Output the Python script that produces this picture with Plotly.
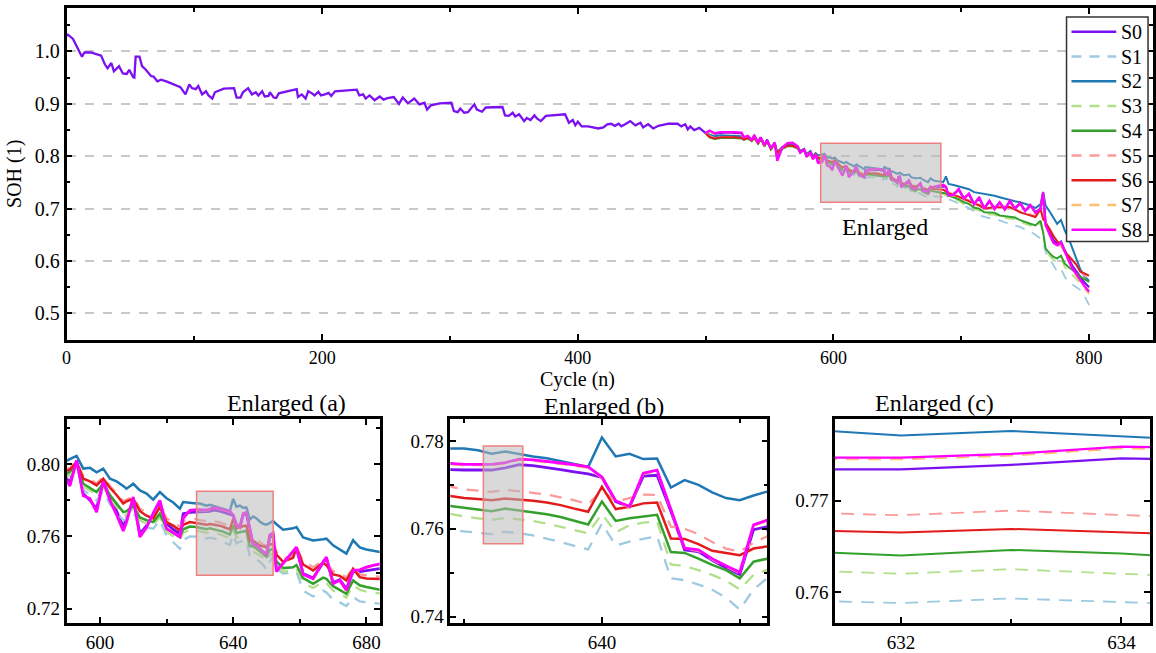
import plotly.graph_objects as go

# ---------------- data ----------------
series_names = ["S0", "S1", "S2", "S3", "S4", "S5", "S6", "S7", "S8"]
series_colors = ["#7B10F0", "#9ecae1", "#1f78b4", "#b2df8a", "#33a02c",
                 "#fb9a99", "#e31a1c", "#fdbf6f", "#ff00ff"]
series_dashed = [False, True, False, True, False, True, False, True, False]

# S0 alone, cycles 0-499
early_cycles = [0, 1, 5, 8, 12, 14, 19, 27, 30, 32,
                35, 37, 41, 44, 47, 49, 52, 53, 54, 57,
                59, 62, 66, 68, 71, 74, 79, 89, 92, 93,
                96, 98, 101, 103, 106, 109, 111, 114, 116, 123,
                131, 133, 136, 138, 142, 145, 148, 150, 153, 155,
                158, 159, 162, 164, 166, 175, 180, 181, 184, 187,
                189, 192, 194, 197, 199, 202, 205, 207, 210, 227,
                229, 232, 234, 237, 241, 245, 248, 251, 256, 260,
                263, 267, 272, 276, 280, 282, 285, 292, 301, 303,
                306, 308, 311, 314, 319, 321, 325, 328, 341, 343,
                346, 349, 351, 354, 358, 360, 363, 366, 368, 371,
                375, 390, 393, 396, 398, 400, 403, 408, 412, 416,
                420, 423, 426, 429, 432, 434, 437, 441, 445, 449,
                451, 455, 459, 463, 471, 478, 481, 484, 486, 488,
                491, 495, 499]
early_s0 = [1.030, 1.032, 1.024, 1.010, 0.990, 0.998, 0.998, 0.992, 0.975, 0.968,
            0.978, 0.962, 0.972, 0.958, 0.957, 0.965, 0.951, 0.950, 0.990, 0.990,
            0.972, 0.965, 0.953, 0.952, 0.943, 0.946, 0.942, 0.932, 0.920, 0.918,
            0.937, 0.930, 0.928, 0.934, 0.918, 0.924, 0.916, 0.910, 0.922, 0.929,
            0.930, 0.912, 0.912, 0.922, 0.930, 0.918, 0.922, 0.916, 0.924, 0.914,
            0.915, 0.922, 0.912, 0.911, 0.920, 0.925, 0.928, 0.913, 0.918, 0.910,
            0.924, 0.920, 0.916, 0.923, 0.916, 0.918, 0.921, 0.915, 0.924, 0.927,
            0.916, 0.918, 0.910, 0.916, 0.907, 0.914, 0.908, 0.911, 0.913, 0.900,
            0.912, 0.901, 0.910, 0.899, 0.902, 0.889, 0.897, 0.901, 0.902, 0.886,
            0.884, 0.891, 0.883, 0.884, 0.899, 0.889, 0.885, 0.893, 0.894, 0.878,
            0.877, 0.883, 0.876, 0.880, 0.867, 0.873, 0.869, 0.878, 0.872, 0.867,
            0.877, 0.880, 0.864, 0.869, 0.859, 0.866, 0.857, 0.857, 0.855, 0.853,
            0.855, 0.861, 0.862, 0.858, 0.862, 0.857, 0.861, 0.867, 0.859, 0.864,
            0.855, 0.861, 0.853, 0.858, 0.862, 0.862, 0.857, 0.861, 0.851, 0.857,
            0.850, 0.854, 0.846]

# all series, cycles 500-800
late_cycles = ([500, 503, 507, 512, 522, 528, 530, 533, 536, 538, 541, 543, 546, 548,
                551, 554, 556, 560, 564, 568, 572, 574, 577, 579, 582, 584, 586, 588]
               + [590, 591, 593, 595, 597, 599, 601, 603, 605, 607, 608, 610, 612, 614,
                  616, 618, 620, 622, 624, 625, 627]
               + list(range(629, 653))
               + [653, 655, 658, 659, 661, 664, 667, 668, 670, 672, 674, 676, 678, 680,
                  682, 684, 686]
               + [688, 690, 694, 698, 702, 706, 710, 714, 718, 722, 726, 730, 734, 738,
                  742, 746, 750, 754, 758, 762, 764, 766, 769, 772, 775, 778, 781, 784,
                  787, 790, 793, 796, 800])

s0_late = ([.844, .848, .843, .845, .845, .844, .836, .838, .831, .839, .826, .835, .821, .830,
            .815, .825, .798, .816, .823, .825, .818, .808, .813, .801, .808, .796, .804, .789]
           + [.7920, .7900, .8022, .7837, .7800, .7754, .7911, .7815, .7740, .7655, .7700, .7800,
              .7615, .7660, .7720, .7791, .7671, .7640, .7615, .7726, .7733]
           + [.7735, .7734, .7734, .7734, .7739, .7746, .7744, .7740, .7735, .7730, .7725, .7717,
              .7662, .7650, .7720, .7722, .7640, .7552, .7548, .7528, .7511, .7496, .7598, .7605]
           + [.7415, .7450, .7515, .7535, .7395, .7370, .7455, .7478, .7345, .7360, .7310, .7405,
              .7405, .7412, .7418, .7422, .7426]
           + [.7400, .7260, .7280, .7360, .7200, .7270, .7090, .7200, .7010, .7140, .7000, .7110,
              .6990, .7140, .7000, .7100, .6960, .7060, .6930, .7000, .7280, .6700, .6550, .6400,
              .6330, .6370, .6200, .6050, .5900, .5800, .5700, .5600, .5500])

s1 = ([.844, .838, .834, .836, .836, .835, .832, .834, .828, .835, .823, .832, .818, .828,
       .812, .822, .803, .813, .818, .818, .814, .806, .810, .799, .805, .794, .801, .793]
      + [.7930, .7940, .7994, .7860, .7830, .7800, .7850, .7780, .7735, .7690, .7700, .7735,
         .7662, .7650, .7643, .7690, .7606, .7570, .7532, .7580, .7600]
      + [.7599, .7594, .7591, .7588, .7593, .7590, .7585, .7578, .7570, .7561, .7553, .7612,
         .7562, .7571, .7577, .7583, .7487, .7483, .7473, .7461, .7443, .7416, .7462, .7488]
      + [.7420, .7395, .7400, .7405, .7300, .7268, .7300, .7290, .7250, .7235, .7215, .7265,
         .7240, .7235, .7230, .7228, .7225]
      + [.7250, .7180, .7140, .7100, .7050, .7010, .6950, .6880, .6840, .6820, .6800, .6775,
         .6740, .6700, .6680, .6650, .6600, .6560, .6500, .6427, .6350, .6174, .6050, .5920,
         .5800, .5850, .5700, .5600, .5550, .5500, .5450, .5350, .5160])

s2 = ([.844, .842, .838, .840, .839, .838, .835, .838, .832, .838, .827, .836, .822, .832,
       .816, .826, .808, .818, .821, .821, .817, .810, .814, .804, .810, .800, .806, .802]
      + [.8020, .8028, .8046, .7976, .7980, .7955, .7976, .7920, .7905, .7880, .7865, .7892,
         .7855, .7838, .7804, .7846, .7812, .7788, .7754, .7791, .7786]
      + [.7783, .7783, .7779, .7771, .7776, .7770, .7765, .7761, .7755, .7748, .7741, .7808,
         .7765, .7771, .7759, .7760, .7694, .7711, .7700, .7683, .7670, .7665, .7676, .7685]
      + [.7668, .7638, .7645, .7652, .7595, .7578, .7585, .7588, .7551, .7528, .7505, .7579,
         .7540, .7528, .7522, .7515, .7508]
      + [.7616, .7470, .7450, .7425, .7400, .7370, .7315, .7300, .7278, .7260, .7245, .7218,
         .7190, .7154, .7140, .7120, .7090, .7060, .7010, .7080, .7320, .7060, .6950, .6820,
         .6710, .6780, .6580, .6430, .6240, .6050, .5850, .5720, .5620])

s3 = ([.844, .837, .834, .836, .836, .835, .832, .835, .829, .836, .824, .833, .819, .829,
       .813, .823, .805, .815, .819, .819, .815, .807, .811, .800, .806, .795, .802, .794]
      + [.7935, .7945, .7995, .7875, .7855, .7830, .7875, .7810, .7765, .7715, .7722, .7755,
         .7688, .7672, .7662, .7708, .7625, .7602, .7578, .7620, .7637]
      + [.7634, .7628, .7624, .7620, .7625, .7622, .7618, .7612, .7605, .7597, .7590, .7634,
         .7592, .7608, .7614, .7617, .7519, .7515, .7506, .7495, .7482, .7462, .7495, .7507]
      + [.7440, .7405, .7410, .7420, .7345, .7315, .7350, .7342, .7300, .7285, .7262, .7330,
         .7305, .7295, .7290, .7285, .7280]
      + [.7255, .7215, .7185, .7145, .7085, .7055, .6985, .6965, .6895, .6895, .6885, .6835,
         .6825, .6805, .6795, .6745, .6705, .6675, .6645, .6730, .6500, .6200, .6100, .6020,
         .5980, .6040, .5880, .5800, .5740, .5660, .5580, .5520, .5450])

s4 = ([.844, .836, .833, .835, .835, .834, .831, .834, .829, .835, .824, .833, .819, .829,
       .813, .823, .805, .815, .819, .819, .815, .807, .811, .800, .806, .795, .802, .795]
      + [.7948, .7960, .8003, .7892, .7870, .7846, .7892, .7830, .7782, .7735, .7740, .7772,
         .7705, .7690, .7680, .7726, .7643, .7620, .7597, .7640, .7655]
      + [.7652, .7648, .7645, .7640, .7646, .7642, .7638, .7633, .7627, .7618, .7610, .7662,
         .7618, .7624, .7628, .7632, .7547, .7545, .7532, .7518, .7506, .7487, .7525, .7532]
      + [.7462, .7425, .7430, .7442, .7370, .7338, .7372, .7365, .7325, .7305, .7283, .7357,
         .7330, .7320, .7312, .7303, .7298]
      + [.7290, .7250, .7220, .7180, .7120, .7090, .7020, .7000, .6930, .6930, .6920, .6870,
         .6860, .6840, .6830, .6780, .6740, .6710, .6680, .6770, .6550, .6237, .6150, .6080,
         .6050, .6100, .5950, .5880, .5830, .5760, .5700, .5660, .5600])

s5 = ([.844, .839, .835, .837, .837, .836, .833, .836, .830, .837, .825, .834, .820, .830,
       .814, .824, .806, .816, .820, .820, .816, .808, .812, .801, .807, .796, .803, .796]
      + [.7975, .7980, .8018, .7935, .7915, .7895, .7930, .7880, .7840, .7795, .7805, .7820,
         .7755, .7730, .7715, .7775, .7700, .7680, .7655, .7685, .7698]
      + [.7696, .7690, .7687, .7684, .7689, .7686, .7682, .7678, .7672, .7665, .7656, .7688,
         .7662, .7670, .7678, .7677, .7605, .7600, .7588, .7570, .7555, .7548, .7568, .7583]
      + [.7515, .7478, .7495, .7545, .7462, .7430, .7465, .7455, .7408, .7398, .7372, .7428,
         .7390, .7383, .7380, .7378, .7375]
      + [.7350, .7310, .7280, .7250, .7200, .7160, .7120, .7080, .7020, .7040, .7050, .7040,
         .7050, .7050, .7000, .6950, .6920, .6890, .6860, .7000, .6850, .6760, .6620, .6500,
         .6400, .6330, .6200, .6110, .6020, .5920, .5800, .5730, .5660])

s6 = ([.844, .837, .834, .836, .836, .835, .832, .835, .830, .836, .825, .834, .820, .830,
       .814, .824, .806, .816, .820, .820, .816, .808, .812, .801, .807, .797, .804, .797]
      + [.7966, .7970, .8012, .7920, .7905, .7883, .7920, .7870, .7830, .7782, .7795, .7809,
         .7740, .7715, .7700, .7763, .7680, .7660, .7634, .7665, .7680]
      + [.7675, .7670, .7668, .7665, .7669, .7667, .7664, .7660, .7654, .7646, .7639, .7696,
         .7645, .7650, .7658, .7660, .7578, .7577, .7565, .7550, .7545, .7540, .7555, .7560]
      + [.7500, .7460, .7482, .7538, .7445, .7412, .7455, .7440, .7390, .7382, .7357, .7422,
         .7375, .7367, .7366, .7364, .7362]
      + [.7330, .7290, .7260, .7230, .7180, .7140, .7100, .7060, .7000, .7020, .7030, .7020,
         .7030, .7030, .6980, .6930, .6900, .6870, .6840, .6990, .6800, .6740, .6600, .6480,
         .6380, .6300, .6180, .6100, .6020, .5930, .5800, .5760, .5720])

s7 = ([.844, .847, .843, .845, .845, .844, .836, .839, .831, .840, .826, .836, .821, .831,
       .815, .826, .793, .817, .824, .826, .819, .808, .813, .800, .808, .795, .804, .788]
      + [.7908, .7882, .8020, .7828, .7808, .7738, .7903, .7802, .7722, .7632, .7682, .7815,
         .7600, .7652, .7728, .7798, .7645, .7622, .7600, .7702, .7743]
      + [.7747, .7745, .7745, .7745, .7749, .7757, .7755, .7752, .7748, .7744, .7739, .7716,
         .7662, .7649, .7725, .7732, .7643, .7554, .7550, .7530, .7514, .7499, .7607, .7618]
      + [.7402, .7449, .7517, .7538, .7387, .7363, .7457, .7483, .7335, .7354, .7299, .7409,
         .7412, .7427, .7437, .7446, .7452]
      + [.7400, .7240, .7250, .7360, .7180, .7280, .7070, .7210, .6990, .7140, .6980, .7110,
         .6970, .7140, .6990, .7100, .6940, .7060, .6910, .6990, .7290, .6660, .6480, .6330,
         .6270, .6320, .6140, .5970, .5810, .5710, .5600, .5490, .5370])

s8 = ([.844, .849, .844, .846, .846, .845, .836, .839, .831, .840, .826, .836, .821, .831,
       .815, .826, .791, .817, .825, .826, .819, .807, .813, .799, .808, .794, .804, .786]
      + [.7911, .7880, .8022, .7825, .7810, .7735, .7905, .7800, .7720, .7630, .7680, .7819,
         .7597, .7650, .7730, .7800, .7643, .7620, .7597, .7700, .7745]
      + [.7749, .7747, .7747, .7747, .7751, .7759, .7757, .7754, .7750, .7746, .7741, .7718,
         .7664, .7651, .7727, .7734, .7645, .7556, .7552, .7532, .7516, .7501, .7609, .7620]
      + [.7405, .7452, .7520, .7541, .7390, .7366, .7460, .7486, .7338, .7357, .7302, .7412,
         .7415, .7430, .7440, .7449, .7455]
      + [.7420, .7250, .7260, .7376, .7186, .7290, .7080, .7218, .7000, .7150, .6990, .7120,
         .6980, .7150, .7000, .7110, .6950, .7070, .6920, .7000, .7310, .6680, .6500, .6350,
         .6300, .6350, .6174, .6000, .5850, .5750, .5640, .5530, .5415])

# ---------------- checks ----------------
assert len(early_cycles) == len(early_s0), (len(early_cycles), len(early_s0))
for nm, arr in zip(series_names, [s0_late, s1, s2, s3, s4, s5, s6, s7, s8]):
    assert len(arr) == len(late_cycles), (nm, len(arr), len(late_cycles))

s0_cycles = early_cycles + late_cycles
s0 = early_s0 + s0_late
series_x = [s0_cycles] + [late_cycles] * 8
series_y = [s0, s1, s2, s3, s4, s5, s6, s7, s8]

# ---------------- figure ----------------
FONT = "Liberation Serif, Times New Roman, DejaVu Serif, serif"
W, H = 1156, 653


def fx(p):
    return p / W


def fy(p):
    return 1 - p / H


fig = go.Figure()
panels = [("x", "y", 2.0, "10px,8px"), ("x2", "y2", 2.5, "12px,9px"),
          ("x3", "y3", 2.5, "12px,9px"), ("x4", "y4", 2.0, "13px,9px")]
for k, (xa, ya, lw, dpat) in enumerate(panels):
    for i, nm in enumerate(series_names):
        w = lw + (0.3 if i in (0, 8) else 0.0)
        if series_dashed[i]:
            w = lw - 0.2
        fig.add_trace(go.Scatter(
            x=series_x[i], y=series_y[i], mode="lines", name=nm,
            xaxis=xa, yaxis=ya, showlegend=False,
            line=dict(color=series_colors[i], width=w,
                      dash=dpat if series_dashed[i] else "solid"),
            hoverinfo="x+y+name"))


def ax(**kw):
    d = dict(showline=True, linecolor="black", linewidth=2.5, mirror="ticks",
             ticks="inside", ticklen=6, tickwidth=2, tickcolor="black",
             showgrid=False, zeroline=False,
             tickfont=dict(family=FONT, size=20, color="black"))
    d.update(kw)
    return d


def minor(dt):
    return dict(ticks="inside", dtick=dt, ticklen=4, tickwidth=2,
                tickcolor="black", showgrid=False)


small_ticks = dict(family=FONT, size=19, color="black")

layout = dict(
    width=W, height=H, margin=dict(l=0, r=0, t=0, b=0),
    paper_bgcolor="white", plot_bgcolor="white",
    font=dict(family=FONT, size=20, color="black"),
    xaxis=ax(domain=[fx(62), fx(1155)], range=[0, 850], tick0=0, dtick=200,
             anchor="y", minor=minor(100), tickfont=dict(family=FONT, size=18, color="black")),
    yaxis=ax(domain=[fy(341.7), fy(8)], range=[0.45, 1.083], tick0=0.5, dtick=0.1,
             tickformat=".1f", anchor="x", showgrid=True, gridcolor="#c8c8c8",
             gridwidth=1.5, griddash="dash", minor=minor(0.05),
             title=dict(text="SOH (1)", font=dict(family=FONT, size=20, color="black"),
                        standoff=8)),
    xaxis2=ax(domain=[fx(62), fx(377)], range=[590, 684], tick0=600, dtick=40,
              anchor="y2", minor=minor(20), tickfont=small_ticks),
    yaxis2=ax(domain=[fy(627), fy(421.7)], range=[0.712, 0.825], tick0=0.72, dtick=0.04,
              tickformat=".2f", anchor="x2", minor=minor(0.02), tickfont=small_ticks),
    xaxis3=ax(domain=[fx(448), fx(767)], range=[629, 652], tick0=0, dtick=20,
              anchor="y3", minor=minor(10), tickfont=small_ticks),
    yaxis3=ax(domain=[fy(627), fy(421.7)], range=[0.7385, 0.785], tick0=0.74, dtick=0.02,
              tickformat=".2f", anchor="x3", minor=minor(0.01), tickfont=small_ticks),
    xaxis4=ax(domain=[fx(835), fx(1152)], range=[631.4, 634.26], tick0=0, dtick=2,
              anchor="y4", minor=minor(1), tickfont=small_ticks),
    yaxis4=ax(domain=[fy(627), fy(421.7)], range=[0.7566, 0.7789], tick0=0.76, dtick=0.01,
              tickformat=".2f", anchor="x4", tickfont=small_ticks),
    showlegend=False,
)

box_style = dict(type="rect", layer="above", fillcolor="rgba(185,185,185,0.55)",
                 line=dict(color="#f08080", width=1.5))
shapes = [
    dict(box_style, xref="x", yref="y", x0=590, x1=684, y0=0.712, y1=0.825),
    dict(box_style, xref="x2", yref="y2", x0=629, x1=652, y0=0.7385, y1=0.785),
    dict(box_style, xref="x3", yref="y3", x0=631.4, x1=634.26, y0=0.7566, y1=0.7789),
]

ann_font = dict(family=FONT, size=24, color="black")
annotations = [
    dict(text="Cycle (n)", x=400, xref="x", y=fy(382), yref="paper", showarrow=False,
         font=dict(family=FONT, size=20, color="black"), yanchor="middle", borderpad=0),
    dict(text="Enlarged", x=640.5, xref="x", y=0.6655, yref="y", showarrow=False,
         font=ann_font, yanchor="middle"),
    dict(text="Enlarged (a)", x=fx(222), xref="paper", y=fy(405), yref="paper",
         showarrow=False, font=ann_font, yanchor="middle", borderpad=0),
    dict(text="Enlarged (b)", x=fx(603), xref="paper", y=fy(408), yref="paper",
         showarrow=False, font=ann_font, yanchor="middle", borderpad=0),
    dict(text="Enlarged (c)", x=fx(996), xref="paper", y=fy(405), yref="paper",
         showarrow=False, font=ann_font, yanchor="middle", borderpad=0),
]

# legend box drawn in page pixels (top-right of the main panel)
LEG_X0, LEG_X1, LEG_Y0, LEG_Y1 = 1068, 1150, 17, 243
LEG_ROW0, LEG_ROW_H = 32, 24.9
shapes.append(dict(type="rect", xref="paper", yref="paper", layer="above",
                   x0=fx(LEG_X0), x1=fx(LEG_X1), y0=fy(LEG_Y1), y1=fy(LEG_Y0),
                   fillcolor="white", line=dict(color="#333333", width=1.5)))
for i, nm in enumerate(series_names):
    yy = fy(LEG_ROW0 + LEG_ROW_H * i)
    shapes.append(dict(type="line", xref="paper", yref="paper", layer="above",
                       x0=fx(1073), x1=fx(1118), y0=yy, y1=yy,
                       line=dict(color=series_colors[i], width=2.5,
                                 dash="10px,8px" if series_dashed[i] else "solid")))
    annotations.append(dict(text=nm, x=fx(1121), y=yy, xref="paper", yref="paper",
                            xanchor="left", yanchor="middle", showarrow=False,
                            font=dict(family=FONT, size=20, color="black")))

layout["shapes"] = shapes
layout["annotations"] = annotations

fig.update_layout(**layout)
fig.write_html("out.html")
